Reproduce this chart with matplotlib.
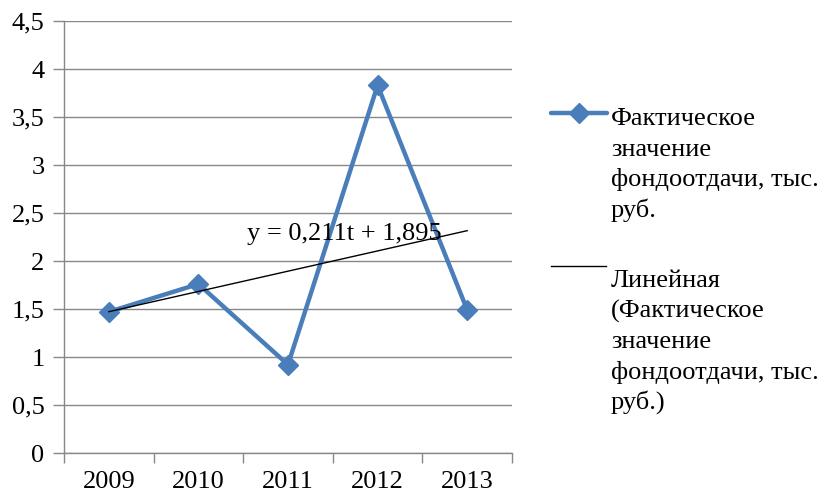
import numpy as np
import matplotlib
matplotlib.use("Agg")
import matplotlib.pyplot as plt
from matplotlib.lines import Line2D
from matplotlib.ticker import FixedLocator, FuncFormatter

plt.rcParams['font.family'] = ['Liberation Serif', 'DejaVu Serif']

years = ['2009', '2010', '2011', '2012', '2013']
values = [1.47, 1.76, 0.92, 3.83, 1.49]
y_ticks = [0, 0.5, 1, 1.5, 2, 2.5, 3, 3.5, 4, 4.5]
series_label = ['Фактическое', 'значение', 'фондоотдачи, тыс.', 'руб.']
trend_label = ['Линейная', '(Фактическое', 'значение', 'фондоотдачи, тыс.', 'руб.)']
equation = 'y = 0,211t + 1,895'

W, H = 824, 495
FS = 19
fig = plt.figure(figsize=(W / 100, H / 100), dpi=100)
ax = fig.add_axes([64 / W, 1 - 453 / H, (512 - 64) / W, (453 - 21) / H])

x = np.arange(len(years))
blue = '#4A7EBB'
grid = '#888888'

ax.plot(x, values, color=blue, lw=3.2, marker='D', ms=10,
        markerfacecolor=blue, markeredgecolor=blue,
        solid_joinstyle='round', zorder=3)

# least-squares trend over t = 1..5
t = x + 1
k, b = np.polyfit(t, values, 1)
ax.plot(x, k * t + b, color='black', lw=1.0, zorder=4)
ax.text(1.54, 2.28, equation, fontsize=FS, ha='left', va='center', zorder=5)

ax.set_xlim(-0.5, len(years) - 0.5)
ax.set_ylim(0, 4.5)

ax.yaxis.set_major_locator(FixedLocator(y_ticks))
ax.yaxis.set_major_formatter(FuncFormatter(lambda v, p: f'{v:g}'.replace('.', ',')))
ax.grid(axis='y', color=grid, lw=1.0, zorder=0)
ax.tick_params(axis='y', length=8, width=1.0, color=grid, labelsize=FS, pad=6)

ax.set_xticks(x)
ax.set_xticklabels(years)
ax.set_xticks(np.arange(-0.5, len(years)), minor=True)
ax.tick_params(axis='x', which='major', length=0, labelsize=FS, pad=13)
ax.tick_params(axis='x', which='minor', length=7, width=1.0, color=grid)

for s in ['top', 'right']:
    ax.spines[s].set_visible(False)
for s in ['left', 'bottom']:
    ax.spines[s].set_color(grid)
    ax.spines[s].set_linewidth(1.0)

# legend, built from figure-pixel positions
def fx(px):
    return px / W

def fy(py):
    return 1 - py / H

fig.add_artist(Line2D([fx(551), fx(607)], [fy(113), fy(113)], color=blue, lw=3.2,
                      solid_capstyle='round'))
fig.add_artist(Line2D([fx(579)], [fy(113)], color=blue, marker='D', ms=10, lw=0))
fig.add_artist(Line2D([fx(551), fx(606)], [fy(266), fy(266)], color='black', lw=1.0))

step = 30.5
for i, line in enumerate(series_label):
    fig.text(fx(611), fy(125 + i * step), line, fontsize=FS, ha='left', va='baseline')
for i, line in enumerate(trend_label):
    fig.text(fx(611), fy(287 + i * step), line, fontsize=FS, ha='left', va='baseline')

fig.savefig('out.png', dpi=100)
